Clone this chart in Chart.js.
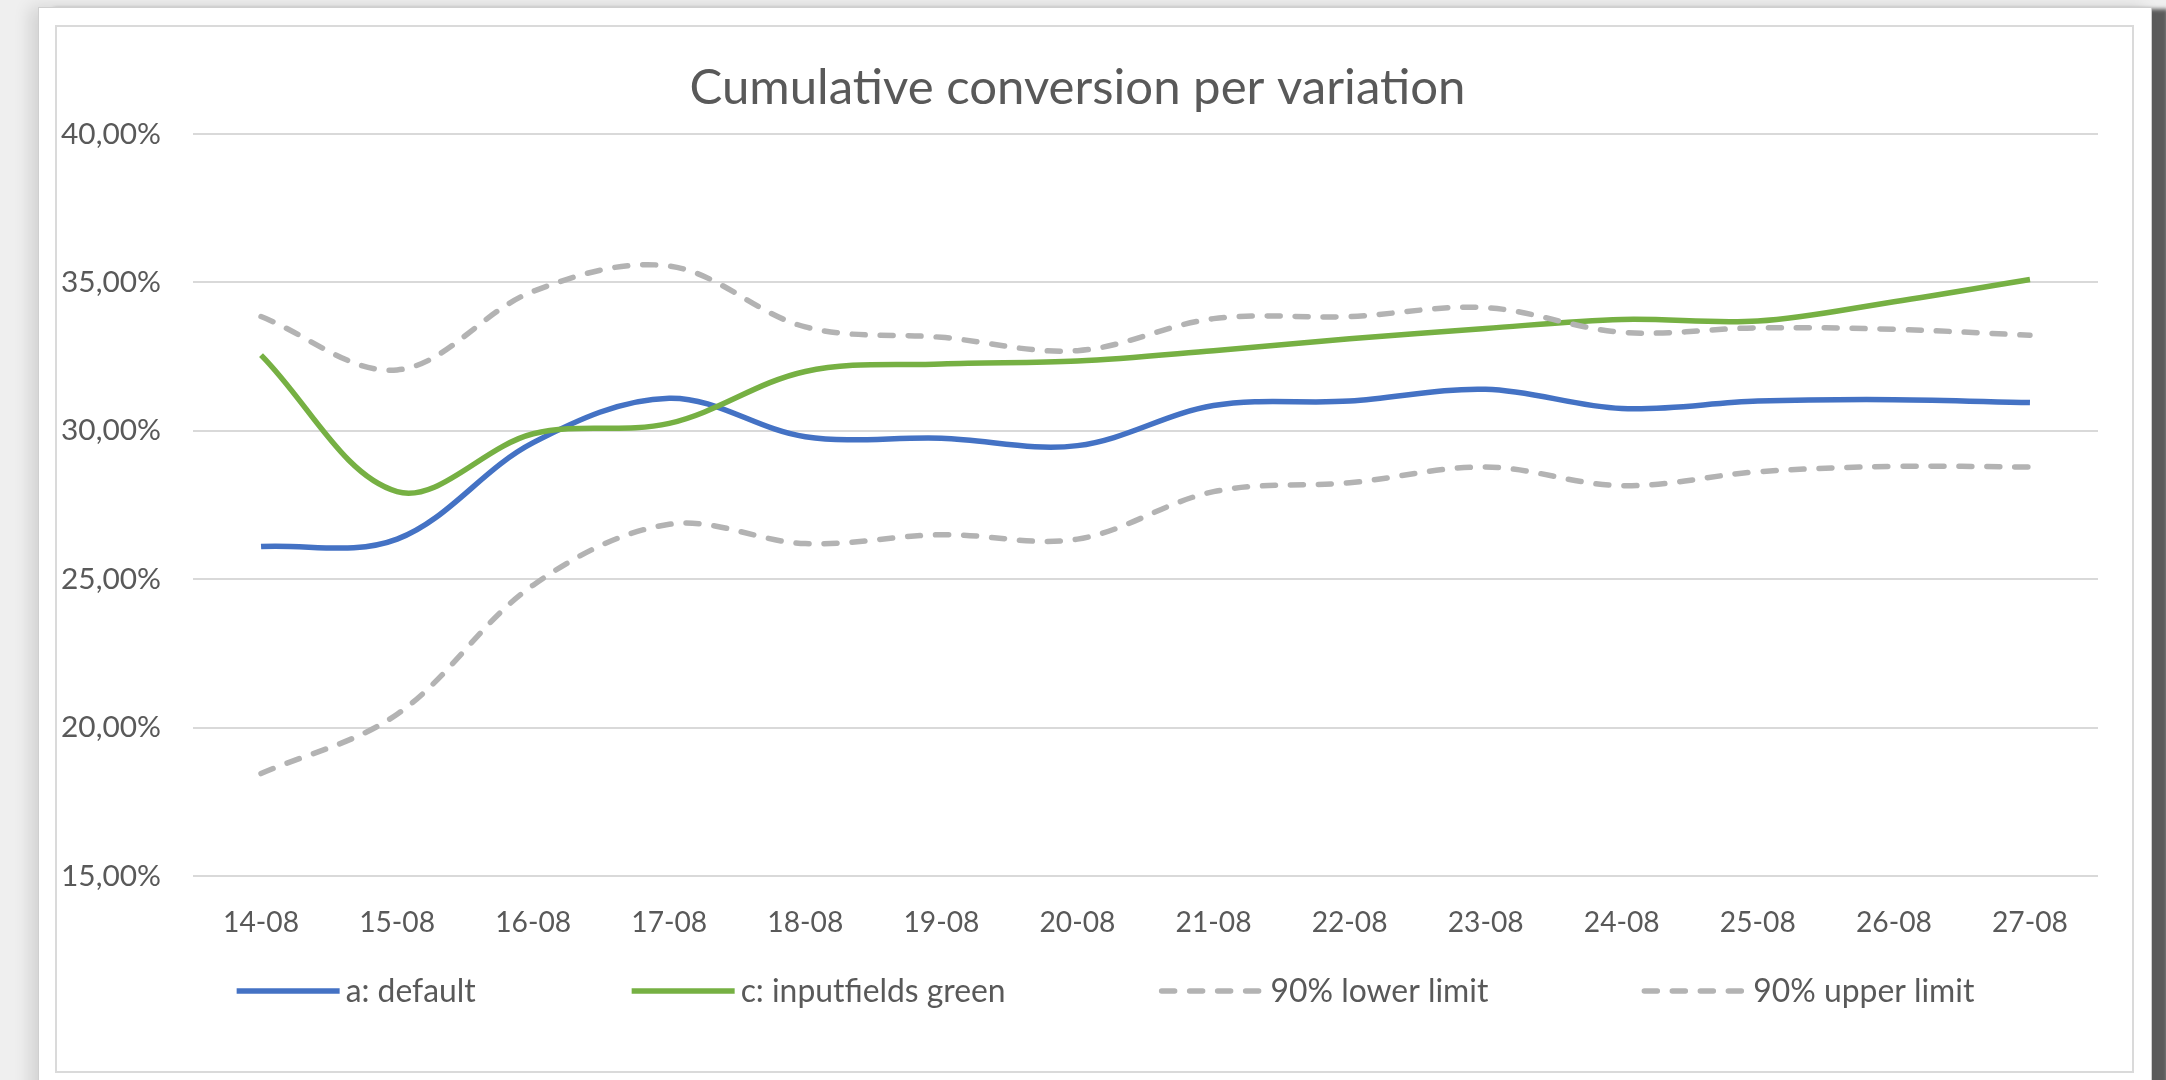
<!DOCTYPE html>
<html>
<head>
<meta charset="utf-8">
<title>Cumulative conversion per variation</title>
<script src="https://cdn.jsdelivr.net/npm/chart.js@4.4.1/dist/chart.umd.min.js"></script>
<style>
  html, body { margin: 0; padding: 0; width: 2166px; height: 1080px; overflow: hidden; background: #efefef; }
  #sheet {
    position: absolute; left: 38px; top: 7px; width: 2114px; height: 1100px;
    background: #ffffff; border: 1px solid #cfcfcf; box-sizing: border-box;
    box-shadow: 16px 2px 4px rgba(0,0,0,0.62), -8px 0 16px rgba(0,0,0,0.12);
  }
  #frame {
    position: absolute; left: 55px; top: 25px; width: 2079px; height: 1048px;
    border: 2px solid #dadada; box-sizing: border-box; background: #ffffff;
  }
  canvas { display: block; }
</style>
</head>
<body>
<div id="sheet"></div>
<div id="frame"><canvas id="chart" width="2075" height="1044"></canvas></div>
<script>
// ---- data -------------------------------------------------------------
const titleText = 'Cumulative conversion per variation';
const dates = ['14-08', '15-08', '16-08', '17-08', '18-08', '19-08', '20-08',
               '21-08', '22-08', '23-08', '24-08', '25-08', '26-08', '27-08'];
const seriesLabels = ['a: default', 'c: inputfields green', '90% lower limit', '90% upper limit'];
const defaultConv = [26.1, 26.35, 29.6, 31.1, 29.8, 29.75, 29.5, 30.85, 31.0, 31.4, 30.75, 31.0, 31.05, 30.95];
const greenConv   = [32.55, 27.95, 29.9, 30.25, 32.0, 32.25, 32.35, 32.7, 33.1, 33.45, 33.75, 33.7, 34.35, 35.1];
const lowerLimit  = [18.45, 20.45, 24.8, 26.85, 26.2, 26.5, 26.35, 27.95, 28.25, 28.78, 28.15, 28.62, 28.8, 28.78];
const upperLimit  = [33.85, 32.05, 34.7, 35.55, 33.5, 33.15, 32.7, 33.78, 33.85, 34.15, 33.32, 33.47, 33.42, 33.22];
const yTicks = [15, 20, 25, 30, 35, 40];

// ---- styling ----------------------------------------------------------
const FONT_FAMILY = 'Lato, "Open Sans", "DejaVu Sans", sans-serif';
const TEXT_COLOR = '#595959';
const GRID_COLOR = '#d9d9d9';
const BLUE = '#4472c4';
const GREEN = '#76b043';
const GREY = '#b3b3b3';

// font sizes chosen so each text run gets its intended width
const measureCtx = document.createElement('canvas').getContext('2d');
function sizeForWidth(text, width) {
  measureCtx.font = '100px ' + FONT_FAMILY;
  return 100 * width / measureCtx.measureText(text).width;
}
const titleSize = sizeForWidth(titleText, 776);
const yTickSize = sizeForWidth('40,00%', 100);
const xTickSize = sizeForWidth('14-08', 76);
const legendSize = sizeForWidth(seriesLabels.join(''), 834);

// plot-area geometry inside the canvas
const PLOT_LEFT = 136, PLOT_TOP = 107, PLOT_BOTTOM = 849, RIGHT_PAD = 34;
const X_AXIS_HEIGHT = 64;
const canvasEl = document.getElementById('chart');
const bottomPad = canvasEl.height - PLOT_BOTTOM - X_AXIS_HEIGHT;
const titleMiddle = 61.2;

function formatPercent(v) {
  return v.toFixed(2).replace('.', ',') + '%';
}

// horizontal legend drawn as line samples followed by the series name
const lineLegend = {
  id: 'lineLegend',
  afterDraw(chart, args, opts) {
    const ctx = chart.ctx;
    const sets = chart.data.datasets;
    ctx.save();
    ctx.font = `${opts.size}px ${FONT_FAMILY}`;
    const widths = sets.map(ds => opts.sample + opts.gap + ctx.measureText(ds.label).width);
    const total = widths.reduce((a, b) => a + b, 0) + opts.spacing * (sets.length - 1);
    let x = chart.width / 2 + opts.shift - total / 2;
    const y = chart.chartArea.bottom + opts.offsetY;
    sets.forEach((ds, i) => {
      ctx.beginPath();
      ctx.strokeStyle = ds.borderColor;
      ctx.lineWidth = ds.borderWidth;
      ctx.lineCap = ds.borderCapStyle || 'butt';
      ctx.setLineDash(ds.borderDash || []);
      ctx.moveTo(x, y);
      ctx.lineTo(x + opts.sample, y);
      ctx.stroke();
      ctx.setLineDash([]);
      ctx.fillStyle = TEXT_COLOR;
      ctx.textAlign = 'left';
      ctx.textBaseline = 'middle';
      ctx.fillText(ds.label, x + opts.sample + opts.gap, y + 1);
      x += widths[i] + opts.spacing;
    });
    ctx.restore();
  }
};

const lineBase = { borderWidth: 5.5, pointRadius: 0, pointHoverRadius: 0, tension: 0.35, fill: false };

new Chart(canvasEl, {
  type: 'line',
  data: {
    labels: dates,
    datasets: [
      { ...lineBase, label: seriesLabels[0], data: defaultConv, borderColor: BLUE, order: 3 },
      { ...lineBase, label: seriesLabels[1], data: greenConv, borderColor: GREEN, order: 2 },
      { ...lineBase, label: seriesLabels[2], data: lowerLimit, borderColor: GREY,
        borderDash: [13, 15], borderCapStyle: 'round', order: 1 },
      { ...lineBase, label: seriesLabels[3], data: upperLimit, borderColor: GREY,
        borderDash: [13, 15], borderCapStyle: 'round', order: 0 }
    ]
  },
  options: {
    responsive: false,
    animation: false,
    events: [],
    layout: { padding: { top: 0, left: 0, right: RIGHT_PAD, bottom: bottomPad } },
    plugins: {
      legend: { display: false },
      tooltip: { enabled: false },
      title: {
        display: true,
        text: titleText,
        color: TEXT_COLOR,
        font: { family: FONT_FAMILY, size: titleSize, weight: 'normal', lineHeight: 1.2 },
        padding: { top: titleMiddle - 0.6 * titleSize, bottom: PLOT_TOP - titleMiddle - 0.6 * titleSize }
      },
      lineLegend: { size: legendSize, sample: 103, gap: 6, spacing: 156, shift: 11, offsetY: 115 }
    },
    scales: {
      x: {
        offset: true,
        grid: { display: false, drawTicks: false },
        border: { display: false },
        ticks: {
          color: TEXT_COLOR,
          font: { family: FONT_FAMILY, size: xTickSize },
          padding: 896 - PLOT_BOTTOM - 0.6 * xTickSize,
          maxRotation: 0, autoSkip: false
        },
        afterFit(scale) { scale.height = X_AXIS_HEIGHT; }
      },
      y: {
        min: yTicks[0],
        max: yTicks[yTicks.length - 1],
        grid: { color: GRID_COLOR, lineWidth: 2, drawTicks: false },
        border: { display: false },
        ticks: {
          color: TEXT_COLOR,
          font: { family: FONT_FAMILY, size: yTickSize },
          padding: 32,
          callback: v => formatPercent(v)
        },
        afterBuildTicks(scale) { scale.ticks = yTicks.map(v => ({ value: v })); },
        afterFit(scale) { scale.width = PLOT_LEFT; }
      }
    }
  },
  plugins: [lineLegend]
});
</script>
</body>
</html>
